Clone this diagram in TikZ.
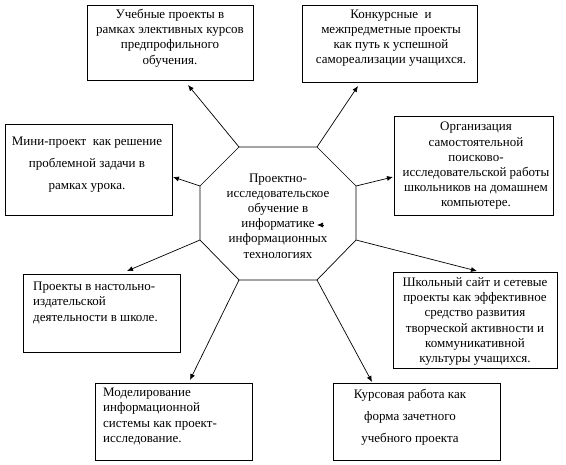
\documentclass[tikz,border=0pt]{standalone}
\usepackage{fontspec}
\setmainfont{Liberation Serif}
\usetikzlibrary{arrows.meta}
\begin{document}
\begin{tikzpicture}[x=1pt,y=-1pt,
  box/.style={draw, line width=0.7pt, inner sep=0pt, rectangle},
  txt/.style={inner sep=0pt, align=center, font=\fontsize{13}{15.2}\selectfont},
  txtl/.style={inner sep=0pt, align=left, font=\fontsize{13}{15.2}\selectfont},
  wide/.style={inner sep=0pt, align=center, font=\fontsize{13}{22}\selectfont},
  conn/.style={line width=0.7pt, -{Latex[length=6pt,width=5pt]}}]
\useasboundingbox (0,0) rectangle (566,465);
% octagon
\coordinate (o1) at (239,147);
\coordinate (o2) at (317,147);
\coordinate (o3) at (356,186);
\coordinate (o4) at (356,240);
\coordinate (o5) at (317,280);
\coordinate (o6) at (239,280);
\coordinate (o7) at (200,240);
\coordinate (o8) at (200,186);
\draw[line width=0.7pt] (o1) -- (o2) -- (o3) -- (o4) -- (o5) -- (o6) -- (o7) -- (o8) -- cycle;
\node[txt] (oct) at (278,216) {Проектно-\\исследовательское\\обучение в\\информатике\\информационных\\технологиях};
% boxes
\node[box, minimum width=166pt, minimum height=75pt] (b1) at (170,42.5) {};
\node[txt] (t1) at (170,38) {Учебные проекты в\\рамках элективных курсов\\предпрофильного\\обучения.};
\node[box, minimum width=175pt, minimum height=77pt] (b2) at (389.5,43.5) {};
\node[txt] (t2) at (391,38) {Конкурсные~ и\\межпредметные проекты\\как путь к успешной\\самореализации учащихся.};
\node[box, minimum width=167pt, minimum height=91pt] (b3) at (88.5,169.5) {};
\node[wide] (t3) at (87,165) {Мини-проект~ как решение\\проблемной задачи в\\рамках урока.};
\node[box, minimum width=159pt, minimum height=99pt] (b4) at (473.5,165.5) {};
\node[txt] (t4) at (476,166) {Организация\\самостоятельной\\поисково-\\исследовательской работы\\школьников на домашнем\\компьютере.};
\node[box, minimum width=157pt, minimum height=78pt] (b5) at (101.5,313) {};
\node[txtl, anchor=west] (t5) at (33,303) {Проекты в настольно-\\издательской\\деятельности в школе.};
\node[box, minimum width=164pt, minimum height=96pt] (b6) at (475,320) {};
\node[txt] (t6) at (475,321.5) {Школьный сайт и сетевые\\проекты как эффективное\\средство развития\\творческой активности и\\коммуникативной\\культуры учащихся.};
\node[box, minimum width=157pt, minimum height=77pt] (b7) at (173.5,421.5) {};
\node[txtl, anchor=west] (t7) at (103,416.5) {Моделирование\\информационной\\системы как проект-\\исследование.};
\node[box, minimum width=167pt, minimum height=77pt] (b8) at (416.5,421.5) {};
\node[wide] (t8) at (410,417.5) {Курсовая работа как\\форма зачетного\\учебного проекта};
% arrow tips
\coordinate (a1) at (188,85);
\coordinate (a2) at (358,86);
\coordinate (a3) at (173,177);
\coordinate (a4) at (393,177);
\coordinate (a5) at (127,271);
\coordinate (a6) at (477,271);
\coordinate (a7) at (190,380);
\coordinate (a8) at (372,382);
\draw[conn] (o1) -- (a1);
\draw[conn] (o2) -- (a2);
\draw[conn] (o8) -- (a3);
\draw[conn] (o3) -- (a4);
\draw[conn] (o7) -- (a5);
\draw[conn] (o4) -- (a6);
\draw[conn] (o6) -- (a7);
\draw[conn] (o5) -- (a8);
% stray arrowhead
\coordinate (s1) at (323,225);
\coordinate (s2) at (317,225);
\draw[conn] (s1) -- (s2);
\end{tikzpicture}
\end{document}
